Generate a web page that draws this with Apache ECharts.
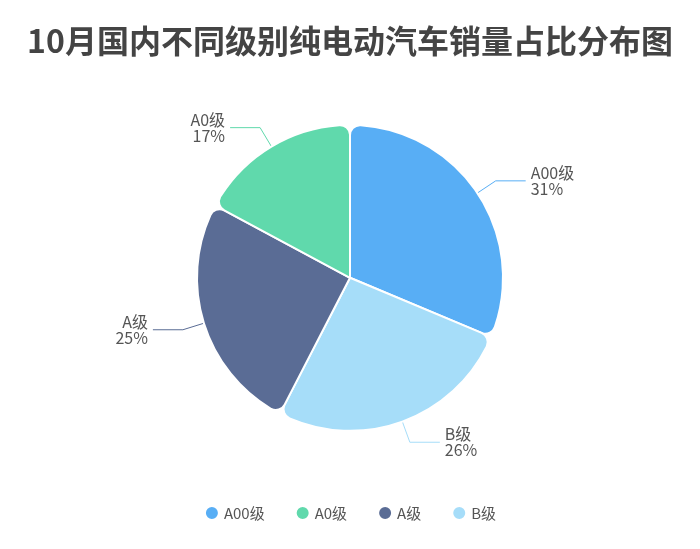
<!DOCTYPE html>
<html>
<head>
<meta charset="utf-8">
<script src="https://cdn.jsdelivr.net/npm/echarts@6/dist/echarts.min.js"></script>
<style>
  html, body { margin: 0; padding: 0; background: #fff; }
  #main { width: 700px; height: 549px; }
</style>
</head>
<body>
<div id="main"></div>
<script>
// legend order
const categories = ['A00级', 'A0级', 'A级', 'B级'];
// clockwise order in the pie, starting from 12 o'clock
const sliceNames = ['A00级', 'B级', 'A级', 'A0级'];
const sliceValues = [31, 26, 25, 17];
const colorMap = {
  'A00级': '#58aef5',
  'A0级': '#60d9ac',
  'A级': '#5a6c95',
  'B级': '#a6ddf9'
};

const chart = echarts.init(document.getElementById('main'));

let data = sliceNames.map((name, i) => ({
  name: name,
  value: sliceValues[i],
  itemStyle: { color: colorMap[name] },
  labelLine: { lineStyle: { color: colorMap[name] } }
}));

let options = {
  backgroundColor: '#ffffff',
  title: {
    text: '10月国内不同级别纯电动汽车销量占比分布图',
    left: 'center',
    top: 20,
    textStyle: {
      fontSize: 32,
      fontWeight: 'bold',
      color: '#444444',
      fontFamily: 'Noto Sans CJK SC'
    }
  },
  legend: {
    data: categories,
    bottom: 23,
    left: 'center',
    icon: 'circle',
    itemWidth: 14,
    itemHeight: 14,
    itemGap: 30,
    textStyle: { fontSize: 15, color: '#555555', fontFamily: 'Noto Sans CJK SC' }
  },
  series: [{
    type: 'pie',
    center: ['50%', '50.6%'],
    radius: ['0%', 153],
    startAngle: 90,
    clockwise: true,
    itemStyle: {
      borderColor: '#ffffff',
      borderWidth: 2,
      borderRadius: 10
    },
    label: {
      formatter: '{b}\n{c}%',
      fontSize: 16,
      lineHeight: 16,
      color: '#555555',
      fontFamily: 'Noto Sans CJK SC'
    },
    labelLine: {
      length: 22,
      length2: 30,
      lineStyle: { width: 1 }
    },
    data: data
  }]
};
chart.setOption(options);
</script>
</body>
</html>
